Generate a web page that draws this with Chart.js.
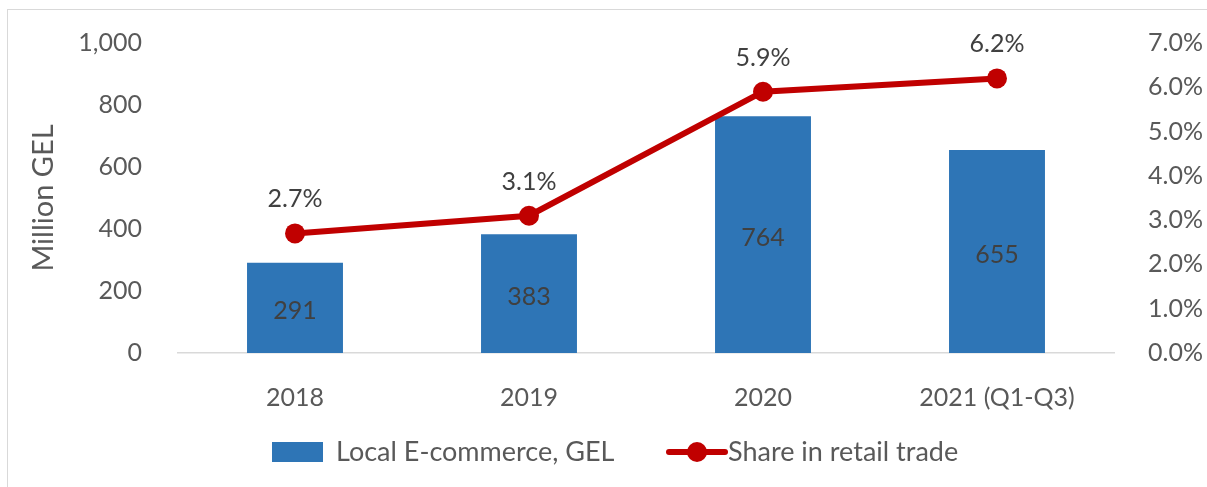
<!DOCTYPE html>
<html>
<head>
<meta charset="utf-8">
<script src="https://cdn.jsdelivr.net/npm/chart.js@4.4.0/dist/chart.umd.min.js"></script>
<style>
    html, body { margin: 0; padding: 0; background: #fff; overflow: hidden; }
    #wrap { position: relative; width: 1207px; height: 487px; }
    #frame { position: absolute; left: 7px; top: 9px; width: 1220px; height: 500px;
             border: 1px solid #d9d9d9; pointer-events: none; }
</style>
</head>
<body>
<div id="wrap">
    <canvas id="chart"></canvas>
    <div id="frame"></div>
</div>
<script>
const categories = ['2018', '2019', '2020', '2021 (Q1-Q3)'];
const ecommerce = [291, 383, 764, 655];          // Million GEL
const retailShare = [2.7, 3.1, 5.9, 6.2];        // percent
const leftTicks = [0, 200, 400, 600, 800, 1000];
const rightTicks = [0, 1, 2, 3, 4, 5, 6, 7];

const FONT = 'Lato';
const BLUE = '#2E75B6';
const RED = '#C00000';
const AXIS_TEXT = '#595959';
const LABEL_TEXT = '#404040';

// value labels on bars and points
const valueLabels = {
    id: 'valueLabels',
    afterDatasetsDraw(chart) {
        const ctx = chart.ctx;
        ctx.save();
        ctx.font = '25px ' + FONT;
        ctx.fillStyle = LABEL_TEXT;
        ctx.textAlign = 'center';
        ctx.textBaseline = 'middle';
        chart.getDatasetMeta(0).data.forEach((el, i) => {
            ctx.fillText(ecommerce[i], el.x, (el.y + el.base) / 2 + 3);
        });
        chart.getDatasetMeta(1).data.forEach((el, i) => {
            ctx.fillText(retailShare[i].toFixed(1) + '%', el.x, el.y - 34);
        });
        ctx.restore();
    }
};

// Excel-style legend under the axis
const excelLegend = {
    id: 'excelLegend',
    afterDraw(chart) {
        const ctx = chart.ctx;
        const y = 452;
        ctx.save();
        ctx.font = '27px ' + FONT;
        ctx.textBaseline = 'middle';
        ctx.textAlign = 'left';

        ctx.fillStyle = BLUE;
        ctx.fillRect(272, y - 10, 51, 20);
        ctx.fillStyle = AXIS_TEXT;
        ctx.fillText(chart.data.datasets[0].label, 336, y);

        ctx.strokeStyle = RED;
        ctx.lineWidth = 6;
        ctx.lineCap = 'round';
        ctx.beginPath();
        ctx.moveTo(669, y);
        ctx.lineTo(725, y);
        ctx.stroke();
        ctx.fillStyle = RED;
        ctx.beginPath();
        ctx.arc(697, y, 10, 0, Math.PI * 2);
        ctx.fill();
        ctx.fillStyle = AXIS_TEXT;
        ctx.fillText(chart.data.datasets[1].label, 728, y);
        ctx.restore();
    }
};

new Chart(document.getElementById('chart'), {
    type: 'bar',
    data: {
        labels: categories,
        datasets: [
            {
                type: 'bar',
                label: 'Local E-commerce, GEL',
                data: ecommerce,
                backgroundColor: BLUE,
                categoryPercentage: 1,
                barPercentage: 0.41,
                yAxisID: 'y',
                order: 1
            },
            {
                type: 'line',
                label: 'Share in retail trade',
                data: retailShare,
                borderColor: RED,
                backgroundColor: RED,
                borderWidth: 6,
                pointRadius: 10,
                pointBorderWidth: 0,
                pointBackgroundColor: RED,
                tension: 0,
                yAxisID: 'y1',
                order: 0
            }
        ]
    },
    options: {
        responsive: true,
        maintainAspectRatio: false,
        animation: false,
        layout: { padding: { top: 41, left: 0, right: 0, bottom: 0 } },
        plugins: {
            legend: { display: false },
            tooltip: { enabled: false }
        },
        scales: {
            x: {
                offset: true,
                grid: { display: false },
                border: { color: '#d9d9d9', width: 1.5 },
                ticks: { color: AXIS_TEXT, font: { family: FONT, size: 25 }, padding: 22, maxRotation: 0 },
                afterFit(scale) { scale.height = 134; }
            },
            y: {
                position: 'left',
                min: 0,
                max: 1000,
                grid: { display: false },
                border: { display: false },
                afterBuildTicks(scale) { scale.ticks = leftTicks.map(v => ({ value: v })); },
                ticks: {
                    color: AXIS_TEXT,
                    font: { family: FONT, size: 25 },
                    padding: 28,
                    callback: v => v.toLocaleString('en-US')
                },
                title: {
                    display: true,
                    text: 'Million GEL',
                    color: AXIS_TEXT,
                    font: { family: FONT, size: 29 },
                    padding: { top: 26, bottom: 0 }
                },
                afterFit(scale) { scale.width = 178; }
            },
            y1: {
                position: 'right',
                min: 0,
                max: 7,
                grid: { display: false },
                border: { display: false },
                afterBuildTicks(scale) { scale.ticks = rightTicks.map(v => ({ value: v })); },
                ticks: {
                    color: AXIS_TEXT,
                    font: { family: FONT, size: 25 },
                    padding: 26,
                    callback: v => v.toFixed(1) + '%'
                },
                afterFit(scale) { scale.width = 93; }
            }
        }
    },
    plugins: [valueLabels, excelLegend]
});
</script>
</body>
</html>
